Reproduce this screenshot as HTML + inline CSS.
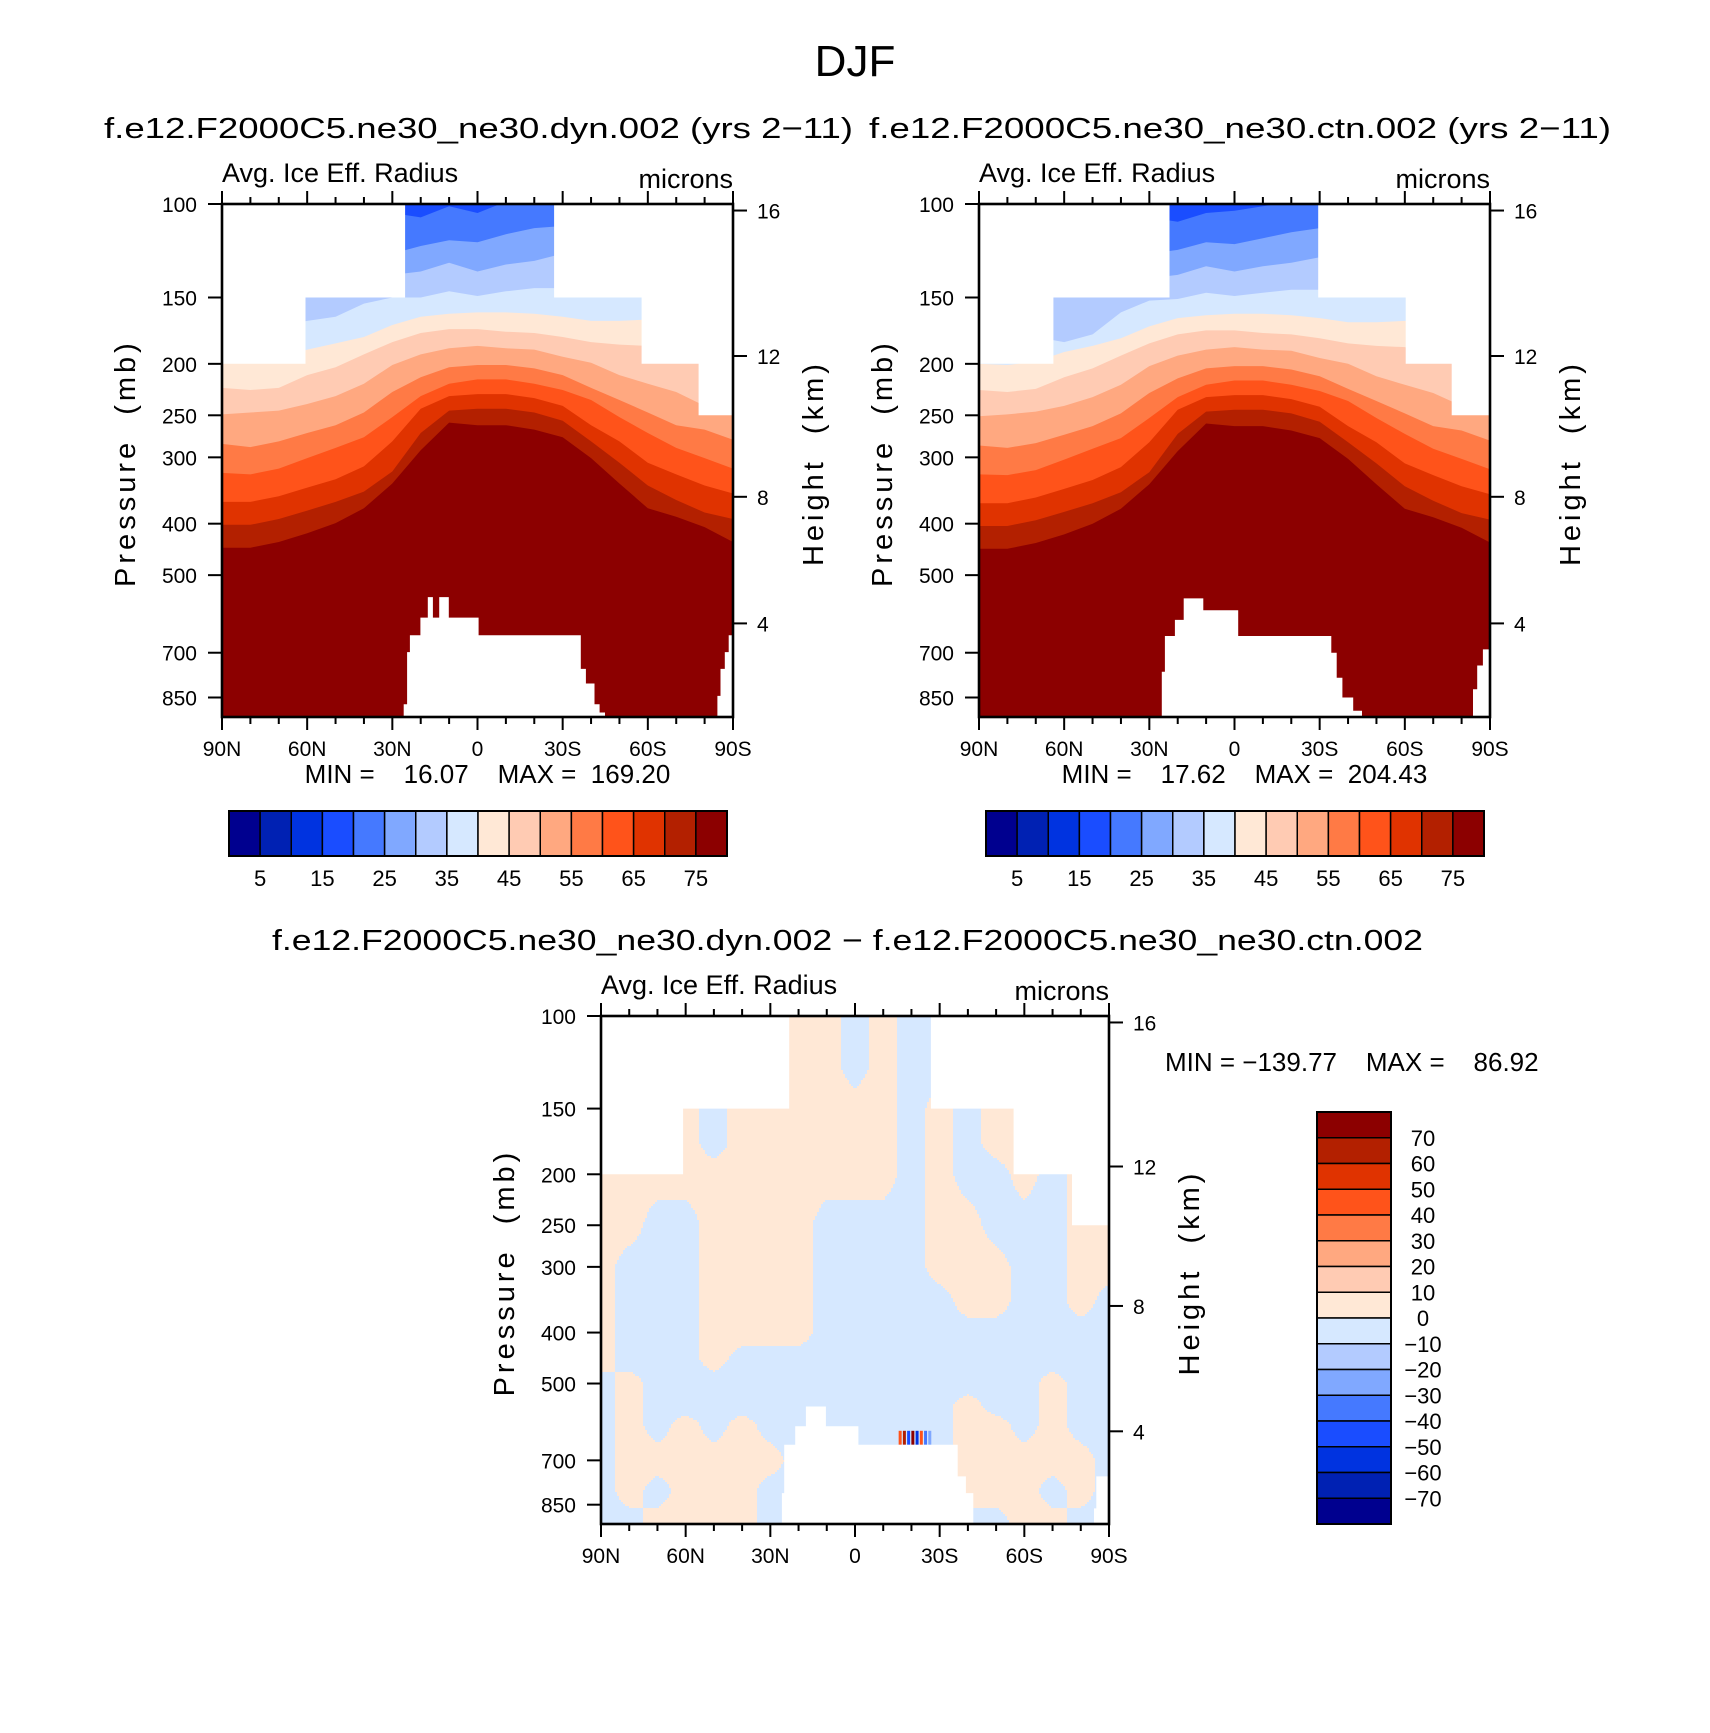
<!DOCTYPE html>
<html><head><meta charset="utf-8"><style>
html,body{margin:0;padding:0;background:#fff;}
svg{display:block;font-family:"Liberation Sans",Arial,sans-serif;}
.pre{white-space:pre;}
</style></head><body>
<svg id="fig" width="1710" height="1733" viewBox="0 0 1710 1733" xmlns="http://www.w3.org/2000/svg">
<rect x="0" y="0" width="1710" height="1733" fill="#fff"/>
<text x="855" y="76" font-size="44" text-anchor="middle">DJF</text>
<text x="104" y="138" font-size="29" textLength="749" lengthAdjust="spacingAndGlyphs">f.e12.F2000C5.ne30_ne30.dyn.002 (yrs 2−11)</text>
<text x="869" y="138" font-size="29" textLength="742" lengthAdjust="spacingAndGlyphs">f.e12.F2000C5.ne30_ne30.ctn.002 (yrs 2−11)</text>
<text x="272" y="950" font-size="29" textLength="1151" lengthAdjust="spacingAndGlyphs">f.e12.F2000C5.ne30_ne30.dyn.002 − f.e12.F2000C5.ne30_ne30.ctn.002</text>
</svg>
<script>
// ---------- data ----------
const colors = ["#00008f","#0021b3","#0033e0","#1a4dff","#4579ff","#80a8ff","#b3cbff","#d6e8ff","#ffe8d6","#ffcbb3","#ffa880","#ff7a45","#ff531a","#e03300","#b32000","#8c0000"];
const lats = [90,80,70,60,50,40,30,20,10,0,-10,-20,-30,-40,-50,-60,-70,-80,-90];
const levels = [20,25,30,35,40,45,50,55,60,65,70,75];
const xTickLabels = ["90N","60N","30N","0","30S","60S","90S"];
const pTicks = [100,150,200,250,300,400,500,700,850];
const kmTicks = [4,8,12,16];
const cbarLabels = [5,15,25,35,45,55,65,75];
const diffCbarLabels = [70,60,50,40,30,20,10,0,-10,-20,-30,-40,-50,-60,-70];

const dynBounds = [
 [95,95,95,95,95,95,104,106,101,104,99,97,95,95,95,95,95,95,95],
 [124,124,124,124,124,124,124,120,117,118,114,111,110,110,110,110,110,110,110],
 [140,140,140,140,140,140,136,134,129,134,130,128,124,124,124,124,124,124,124],
 [170,170,170,166,163,154,150,150,146,149,146,144,144,142,140,140,140,140,140],
 [198,199,196,188,183,178,169,163,161,160,160,161,163,166,166,165,170,170,170],
 [222,224,222,210,203,192,182,175,172,172,174,175,178,182,184,185,190,190,190],
 [249,247,245,238,230,218,201,192,187,185,187,188,194,199,210,218,226,240,243],
 [283,287,280,270,261,247,226,212,203,201,201,204,210,222,234,247,261,266,278],
 [321,323,315,301,288,275,252,230,218,214,214,218,224,234,252,270,288,301,315],
 [364,364,355,342,330,312,280,243,230,228,228,232,240,261,280,307,323,339,351],
 [402,402,392,378,364,348,319,270,245,243,243,247,256,280,307,339,361,381,392],
 [444,444,433,417,399,374,336,291,258,261,261,266,275,301,336,374,388,406,433]
];
const ctnBounds = [
 [95,95,95,95,95,95,106,108,104,103,101,99,96,95,95,95,95,95,95],
 [124,124,124,124,124,124,124,122,118,119,116,113,111,110,110,110,110,110,110],
 [140,140,140,140,140,140,138,136,131,134,131,129,126,124,124,124,124,124,124],
 [172,172,178,182,176,160,152,151,147,149,147,145,145,143,141,140,140,140,140],
 [200,201,198,190,185,179,170,164,162,161,161,162,164,167,167,166,170,170,170],
 [224,226,223,212,204,193,183,176,173,173,175,176,179,183,185,186,191,192,192],
 [251,249,246,240,231,219,202,193,188,186,188,189,195,200,211,219,227,240,244],
 [285,288,282,272,262,248,227,213,204,202,202,205,211,223,235,248,262,267,279],
 [323,324,317,303,289,276,253,231,219,215,215,219,225,235,253,271,289,302,316],
 [366,366,357,344,331,313,281,244,231,229,229,233,241,262,281,308,324,340,352],
 [404,404,394,380,366,349,320,271,246,244,244,248,257,281,308,340,362,382,393],
 [446,446,435,419,400,375,337,292,259,262,262,267,276,302,337,375,389,407,434]
];
const dynTopMask = [[90,200],[60.6,200],[60.6,150],[25.5,150],[25.5,100],[-27,100],[-27,150],[-57.8,150],[-57.8,200],[-77.9,200],[-77.9,250],[-90,250]];
const ctnTopMask = [[90,200],[63.8,200],[63.8,150],[22.9,150],[22.9,100],[-29.5,100],[-29.5,150],[-60.3,150],[-60.3,200],[-76.5,200],[-76.5,250],[-90,250]];
const diffTopMask = [[90,200],[60.9,200],[60.9,150],[23.3,150],[23.3,100],[-26.9,100],[-26.9,150],[-56.2,150],[-56.2,200],[-76.9,200],[-76.9,250],[-90,250]];
const dynOrog = [[26,925],[26,875],[24.8,875],[24.8,698],[23.8,698],[23.8,649],[20.1,649],[20.1,601],[17.5,601],[17.5,550],[15.7,550],[15.7,601],[13.5,601],[13.5,550],[10.1,550],[10.1,601],[-0.4,601],[-0.4,649],[-36.4,649],[-36.4,751],[-38.2,751],[-38.2,800],[-41.2,800],[-41.2,875],[-43,875],[-43,907],[-44.9,907],[-44.9,925]];
const dynOrogS = [[-84.5,925],[-84.5,844],[-85.6,844],[-85.6,751],[-87.1,751],[-87.1,698],[-88.5,698],[-88.5,649],[-90,649],[-90,925]];
const ctnOrog = [[25.6,925],[25.6,760],[24.5,760],[24.5,651],[21,651],[21,607],[17.9,607],[17.9,553],[11,553],[11,582],[-1.3,582],[-1.3,651],[-34.1,651],[-34.1,700],[-36,700],[-36,780],[-38,780],[-38,850],[-41.8,850],[-41.8,900],[-44.9,900],[-44.9,925]];
const ctnOrogS = [[-84,925],[-84,820],[-85.5,820],[-85.5,740],[-87.5,740],[-87.5,690],[-90,690],[-90,925]];
const diffOrog = [[25.9,925],[25.9,808],[25.1,808],[25.1,654],[21.2,654],[21.2,603],[17.4,603],[17.4,553],[10.3,553],[10.3,603],[-1.2,603],[-1.2,654],[-36.4,654],[-36.4,751],[-39.3,751],[-39.3,808],[-41.9,808],[-41.9,925]];
const diffOrogS = [[-84.7,925],[-84.7,864],[-85.5,864],[-85.5,751],[-90,751],[-90,925]];

const diffLevels = [100,125,150,175,200,250,300,350,400,450,500,550,600,700,800,925];
const diffValues = [
 [2,2,2,2,2,2,2,2,2,-2,2,-2,-2,-2,-2,-2,-2,-2,-2],
 [2,2,2,2,2,2,2,2,2,-2,2,-2,-2,-2,-2,-2,-2,-2,-2],
 [2,2,2,2,-2,2,2,2,2,2,2,-2,2,-2,2,2,2,2,2],
 [2,2,2,2,-2,2,2,2,2,2,2,-2,2,-2,2,2,2,2,2],
 [2,2,2,2,2,2,2,2,2,2,2,-2,2,-2,-2,2,-2,2,2],
 [2,2,-2,-2,2,2,2,2,-2,-2,-2,-2,2,2,-2,-2,-2,2,2],
 [2,-2,-2,-2,2,2,2,2,-2,-2,-2,-2,2,2,2,-2,-2,2,2],
 [2,-2,-2,-2,2,2,2,2,-2,-2,-2,-2,-2,2,2,-2,-2,2,-2],
 [2,-2,-2,-2,2,2,2,2,-2,-2,-2,-2,-2,-2,-2,-2,-2,-2,-2],
 [2,-2,-2,-2,2,-2,-2,-2,-2,-2,-2,-2,-2,-2,-2,-2,-2,-2,-2],
 [-2,2,-2,-2,-2,-2,-2,-2,-2,-2,-2,-2,-2,-2,-2,-2,2,-2,-2],
 [-2,2,-2,-2,-2,-2,-2,-2,-2,-2,-2,-2,-2,2,-2,-2,2,-2,-2],
 [-2,2,-2,2,-2,2,-2,-2,-2,-2,-2,-2,-2,2,2,-2,2,-2,-2],
 [-2,2,2,2,2,2,2,-2,-2,-2,-2,-2,-2,2,2,2,2,2,-2],
 [-2,2,-2,2,2,2,-2,-2,-2,-2,-2,-2,-2,2,2,2,-2,2,-2],
 [-2,-2,2,2,2,2,-2,-2,-2,-2,-2,-2,-2,-2,-2,2,2,-2,-2]
];
const noiseLats = [-16,-17.5,-19,-20.5,-22,-23.5,-25,-26.5];
const noiseValues = [40,65,-45,70,-60,45,-35,-25];

// ---------- drawing ----------
const NS = "http://www.w3.org/2000/svg";
const svg = document.getElementById("fig");
function el(tag, parent){ const e=document.createElementNS(NS,tag); parent.appendChild(e); return e; }
function sa(e, o){ for(const k in o) e.setAttribute(k,o[k]); return e; }
const PMAX = 925, LN = Math.log(PMAX/100);
function mkAxes(P){
  return {
    x: lat => P.l + P.w*(90-lat)/180,
    y: p => P.t + P.h*Math.log(p/100)/LN
  };
}
function zToP(z){
  const m=z*1000;
  if(m<11000) return 1013.25*Math.pow(1-2.25577e-5*m,5.25588);
  return 226.32*Math.exp(-(m-11000)/6341.6);
}
let clipId=0;
function maskPath(A, pts, P, g, name){
  let d="M"+(P.l-1)+","+(P.t-2);
  pts.forEach(q=>{ d+=" L"+A.x(q[0]).toFixed(1)+","+A.y(q[1]).toFixed(1); });
  d+=" L"+(P.l+P.w+1)+","+(P.t-2)+" Z";
  const m=el("path",g); sa(m,{d:d,fill:"#fff"});
  
  
}
function orogPath(A, pts, P, g, name){
  let d="";
  pts.forEach((q,i)=>{ d+=(i?" L":"M")+A.x(q[0]).toFixed(1)+","+A.y(q[1]).toFixed(1); });
  d+=" Z";
  const m=el("path",g); sa(m,{d:d,fill:"#fff"});
  
  
}
function drawFrame(P, g, A){
  const f=el("rect",g); sa(f,{x:P.l,y:P.t,width:P.w,height:P.h,fill:"none",stroke:"#000","stroke-width":2.6});
   
  for(let lat=90; lat>=-90; lat-=10){
    const x=A.x(lat), major=(lat%30===0), L=major?13:7;
    const t1=el("line",g); sa(t1,{x1:x,x2:x,y1:P.t,y2:P.t-L,stroke:"#000","stroke-width":2});
     
    const t2=el("line",g); sa(t2,{x1:x,x2:x,y1:P.t+P.h,y2:P.t+P.h+L,stroke:"#000","stroke-width":2});
     
  }
  xTickLabels.forEach((s,i)=>{
    const t=el("text",g); sa(t,{x:A.x(90-30*i),y:P.t+P.h+39,"font-size":21,"text-anchor":"middle"}); t.textContent=s;
     
  });
  pTicks.forEach(p=>{
    const y=A.y(p);
    const tk=el("line",g); sa(tk,{x1:P.l-14,x2:P.l,y1:y,y2:y,stroke:"#000","stroke-width":2});
     
    const t=el("text",g); sa(t,{x:P.l-25,y:y+8,"font-size":21,"text-anchor":"end"}); t.textContent=p;
     
  });
  kmTicks.forEach(z=>{
    const y=A.y(zToP(z));
    const tk=el("line",g); sa(tk,{x1:P.l+P.w,x2:P.l+P.w+14,y1:y,y2:y,stroke:"#000","stroke-width":2});
     
    const t=el("text",g); sa(t,{x:P.l+P.w+24,y:y+8,"font-size":21}); t.textContent=z;
     
  });
  const a=el("text",g); sa(a,{x:P.l,y:P.t-22,"font-size":27}); a.textContent="Avg. Ice Eff. Radius";
   
  const u=el("text",g); sa(u,{x:P.l+P.w,y:P.t-16,"font-size":27,"text-anchor":"end"}); u.textContent="microns";
   
  const cy=P.t+P.h*0.505;
  const yl=el("text",g); sa(yl,{x:0,y:0,"font-size":29,"text-anchor":"middle",transform:"translate("+(P.l-87)+","+cy+") rotate(-90)","letter-spacing":"4",class:"pre"}); yl.textContent="Pressure  (mb)";
   
  const yr=el("text",g); sa(yr,{x:0,y:0,"font-size":29,"text-anchor":"middle",transform:"translate("+(P.l+P.w+90)+","+cy+") rotate(-90)","letter-spacing":"4",class:"pre"}); yr.textContent="Height  (km)";
   
}
function clipFor(P){
  const id="clip"+(clipId++);
  const defs=el("defs",svg); const cp=el("clipPath",defs); cp.setAttribute("id",id);
  const r=el("rect",cp); sa(r,{x:P.l,y:P.t,width:P.w,height:P.h});
  return id;
}
function drawPanel(P, bounds, topMask, orog, orogS, minmax, name){
  const g=el("g",svg);
  
  
  const A=mkAxes(P);
  const fg=el("g",g); fg.setAttribute("clip-path","url(#"+clipFor(P)+")");
   
  const bg=el("rect",fg); sa(bg,{x:P.l,y:P.t,width:P.w,height:P.h,fill:colors[levels[0]/5-1]});
   
  bounds.forEach((row,k)=>{
    let d="";
    row.forEach((p,i)=>{ d+=(i?" L":"M")+A.x(lats[i]).toFixed(1)+","+A.y(p).toFixed(1); });
    d+=" L"+(P.l+P.w+2)+","+(P.t+P.h+2)+" L"+(P.l-2)+","+(P.t+P.h+2)+" Z";
    const b=el("path",fg); sa(b,{d:d,fill:colors[levels[k]/5]});
    
    
  });
  maskPath(A, topMask, P, fg, 'model-top-mask');
  orogPath(A, orog, P, fg, 'orography-mask');
  orogPath(A, orogS, P, fg, 'antarctic-orography-mask');
  drawFrame(P, g, A);
  const mm=el("text",g); sa(mm,{x:P.l+P.w/2+10,y:P.t+P.h+66,"font-size":26,"text-anchor":"middle",class:"pre"}); mm.textContent=minmax;
   
  const cb={l:P.l+7,t:811,w:498,h:45};
  const cg=el("g",g);
   
  colors.forEach((c,i)=>{
    const r=el("rect",cg); sa(r,{x:cb.l+cb.w*i/16,y:cb.t,width:cb.w/16,height:cb.h,fill:c,stroke:"#000","stroke-width":1.5});
     
  });
  const ob=el("rect",cg); sa(ob,{x:cb.l,y:cb.t,width:cb.w,height:cb.h,fill:"none",stroke:"#000","stroke-width":2});
  cbarLabels.forEach(v=>{
    const t=el("text",cg); sa(t,{x:cb.l+cb.w*(v/5)/16,y:886,"font-size":22,"text-anchor":"middle"}); t.textContent=v;
     
  });
}
drawPanel({l:222,t:204,w:511,h:513}, dynBounds, dynTopMask, dynOrog, dynOrogS, "MIN =    16.07    MAX =  169.20", "dyn-panel");
drawPanel({l:979,t:204,w:511,h:513}, ctnBounds, ctnTopMask, ctnOrog, ctnOrogS, "MIN =    17.62    MAX =  204.43", "ctn-panel");

(function(){
  const P={l:601,t:1016,w:508,h:508};
  const A=mkAxes(P);
  const g=el("g",svg);
  
  
  const fg=el("g",g); fg.setAttribute("clip-path","url(#"+clipFor(P)+")");
   
  const lnL=diffLevels.map(p=>Math.log(p));
  function val(lat,p){
    let fi=(90-lat)/10; fi=Math.max(0,Math.min(lats.length-1.0001,fi));
    const i0=Math.floor(fi), fx=fi-i0;
    const lp=Math.log(p); let j0=0;
    while(j0<lnL.length-2 && lnL[j0+1]<lp) j0++;
    let fy=(lp-lnL[j0])/(lnL[j0+1]-lnL[j0]); fy=Math.max(0,Math.min(1,fy));
    const a=diffValues[j0][i0],b=diffValues[j0][i0+1],c=diffValues[j0+1][i0],d=diffValues[j0+1][i0+1];
    return (a*(1-fx)+b*fx)*(1-fy)+(c*(1-fx)+d*fx)*fy;
  }
  function cidx(v){ return Math.max(0,Math.min(15,Math.floor(v/10)+8)); }
  const step=2;
  for(let yy=P.t; yy<P.t+P.h; yy+=step){
    const p=100*Math.exp((yy+step/2-P.t)/P.h*LN);
    let runStart=P.l, runC=null;
    for(let xx=P.l; xx<=P.l+P.w; xx+=step){
      let c=null;
      if(xx<P.l+P.w){ const lat=90-(xx+step/2-P.l)/P.w*180; c=cidx(val(lat,p)); }
      if(c!==runC){
        if(runC!==null){
          const r=el("rect",fg); sa(r,{x:runStart,y:yy,width:xx-runStart+0.5,height:step+0.5,fill:colors[runC]});
          
          
        }
        runStart=xx; runC=c;
      }
    }
  }
  noiseLats.forEach((lat,i)=>{
    const x=A.x(lat), y1=A.y(615), y2=A.y(654);
    const r=el("rect",fg); sa(r,{x:x-1.5,y:y1,width:3,height:y2-y1,fill:colors[cidx(noiseValues[i])]});
    
    
  });
  maskPath(A, diffTopMask, P, fg, 'model-top-mask');
  orogPath(A, diffOrog, P, fg, 'orography-mask');
  orogPath(A, diffOrogS, P, fg, 'antarctic-orography-mask');
  drawFrame(P, g, A);
  const mm=el("text",g); sa(mm,{x:1165,y:1071,"font-size":26,class:"pre"}); mm.textContent="MIN = −139.77    MAX =    86.92";
   
  const cb={l:1317,t:1112,w:74,h:412};
  const cg=el("g",g);
   
  colors.slice().reverse().forEach((c,i)=>{
    const r=el("rect",cg); sa(r,{x:cb.l,y:cb.t+cb.h*i/16,width:cb.w,height:cb.h/16,fill:c,stroke:"#000","stroke-width":1.5});
     
  });
  const ob=el("rect",cg); sa(ob,{x:cb.l,y:cb.t,width:cb.w,height:cb.h,fill:"none",stroke:"#000","stroke-width":2});
  diffCbarLabels.forEach((v,i)=>{
    const t=el("text",cg); sa(t,{x:1423,y:cb.t+cb.h*(i+1)/16+8,"font-size":22,"text-anchor":"middle"}); t.textContent=(v<0?"−"+(-v):v);
     
  });
})();
</script>
</body></html>
